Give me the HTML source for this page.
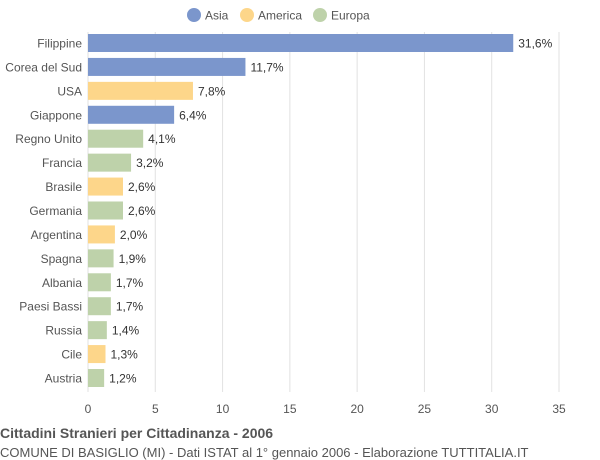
<!DOCTYPE html>
<html><head><meta charset="utf-8"><style>
body{margin:0;background:#fff;font-family:"Liberation Sans",sans-serif;}
svg{display:block}
</style></head><body>
<svg id="chart" width="600" height="460" font-family="Liberation Sans, sans-serif">
<g id="legend">
 <circle cx="194" cy="15" r="7" fill="#7b96cc"/>
 <text x="205" y="19.5" font-size="12" fill="#555">Asia</text>
 <circle cx="247" cy="15" r="7" fill="#fdd68a"/>
 <text x="258" y="19.5" font-size="12" fill="#555">America</text>
 <circle cx="320" cy="15" r="7" fill="#bed2aa"/>
 <text x="331" y="19.5" font-size="12" fill="#555">Europa</text>
</g>
<g id="grid"></g>
<g id="bars"></g>
<g id="xticks"></g>
<text x="0" y="438" font-size="14" font-weight="bold" fill="#555">Cittadini Stranieri per Cittadinanza - 2006</text>
<text x="0" y="457" font-size="13" fill="#555">COMUNE DI BASIGLIO (MI) - Dati ISTAT al 1° gennaio 2006 - Elaborazione TUTTITALIA.IT</text>
</svg>
<script>
const categories=["Filippine","Corea del Sud","USA","Giappone","Regno Unito","Francia","Brasile","Germania","Argentina","Spagna","Albania","Paesi Bassi","Russia","Cile","Austria"];
const values=[31.6,11.7,7.8,6.4,4.1,3.2,2.6,2.6,2.0,1.9,1.7,1.7,1.4,1.3,1.2];
const continents=["Asia","Asia","America","Asia","Europa","Europa","America","Europa","America","Europa","Europa","Europa","Europa","America","Europa"];
const tickValues=[0,5,10,15,20,25,30,35];
const colors={Asia:"#7b96cc",America:"#fdd68a",Europa:"#bed2aa"};
const NS="http://www.w3.org/2000/svg";
const x0=88,x1=559,xmax=35;
const xs=v=>x0+v*(x1-x0)/xmax;
const ys=i=>43+i*(378-43)/(categories.length-1);
function mk(tag,attrs,parent){const e=document.createElementNS(NS,tag);for(const k in attrs)e.setAttribute(k,attrs[k]);parent.appendChild(e);return e;}
const grid=document.getElementById('grid'),bars=document.getElementById('bars'),xt=document.getElementById('xticks');
tickValues.forEach(t=>{
 const l=mk('line',{x1:xs(t),x2:xs(t),y1:32,y2:392,stroke:"#e2e2e2","stroke-width":1},grid);
 
 
 const tx=mk('text',{x:xs(t),y:413,"font-size":12,fill:"#555","text-anchor":"middle"},xt);
 tx.textContent=t;
 
 
});
categories.forEach((c,i)=>{
 const y=ys(i);
 const r=mk('rect',{x:x0,y:y-9,width:xs(values[i])-x0,height:18,fill:colors[continents[i]]},bars);
 
 
 const lb=mk('text',{x:82,y:y+4.5,"font-size":12,fill:"#555","text-anchor":"end"},bars);
 lb.textContent=c;
 
 
 const vl=mk('text',{x:xs(values[i])+5,y:y+4.5,"font-size":12,fill:"#333"},bars);
 vl.textContent=values[i].toFixed(1).replace('.',',')+'%';
 
 
});
</script>
</body></html>
